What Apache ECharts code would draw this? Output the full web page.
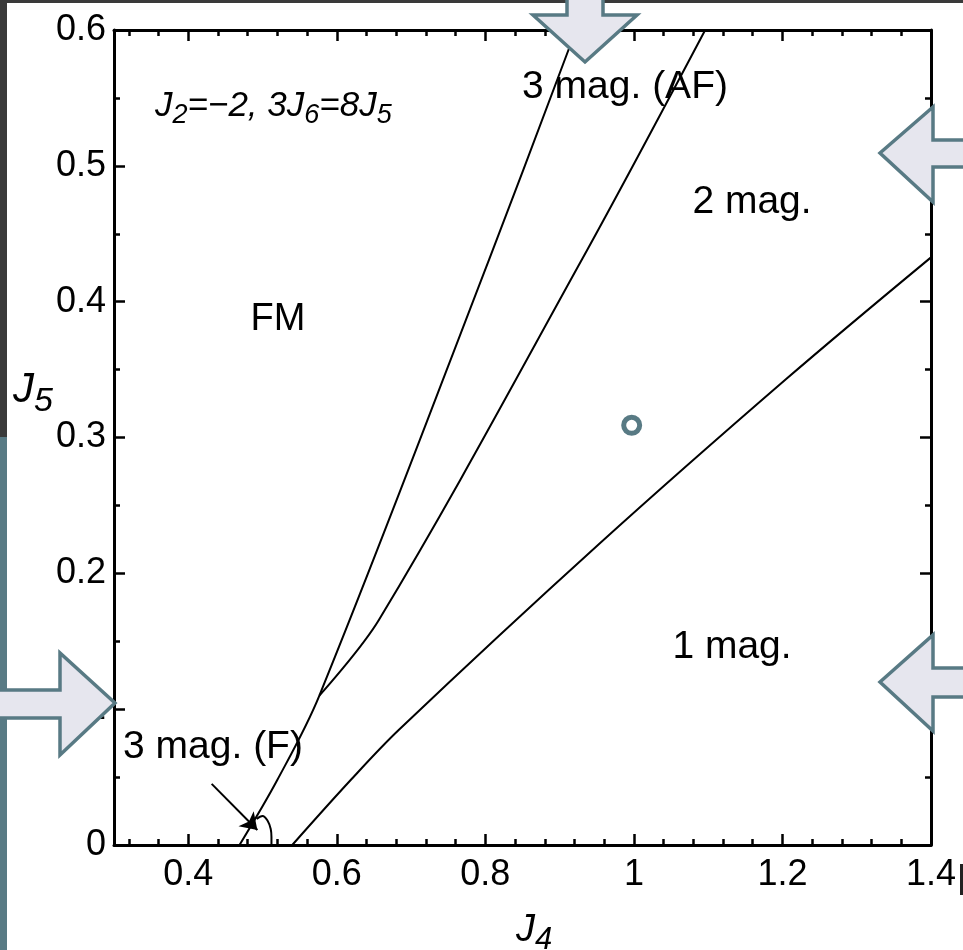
<!DOCTYPE html>
<html>
<head>
<meta charset="utf-8">
<script src="https://cdn.jsdelivr.net/npm/echarts@6/dist/echarts.min.js"></script>
<style>
html,body{margin:0;padding:0;background:#fff;}
#chart{width:963px;height:950px;}
</style>
</head>
<body>
<div id="chart"></div>
<script>
// ---- data (J4, J5) ----
const boundaryFM_AF = [[0.469,0],[0.520,0.048],[0.5765,0.110],[0.805,0.431],[0.922,0.6]];
const boundaryAF_2mag = [[0.5765,0.110],[0.657,0.166],[0.930,0.431],[1.096,0.6]];
const boundary2mag_1mag = [[0.540,0],[0.619,0.048],[0.684,0.085],[0.952,0.221],[1.205,0.343],[1.4,0.4326]];
const boundary3magF = [[0.492,0.0192],[0.500,0.0214],[0.507,0.0177],[0.511,0.0118],[0.512,0.0059],[0.512,0]];
const markedPoint = [[0.997,0.309]];
const arrowFrom = [0.4315,0.045];
const arrowTo = [0.493,0.011];
// ---- ticks ----
const xMajor = [0.4,0.6,0.8,1.0,1.2,1.4];
const xMinor = [0.32,0.36,0.40,0.44,0.48,0.52,0.56,0.60,0.64,0.68,0.72,0.76,0.80,0.84,0.88,0.92,0.96,1.00,1.04,1.08,1.12,1.16,1.20,1.24,1.28,1.32,1.36];
const yMajor = [0,0.1,0.2,0.3,0.4,0.5,0.6];
const yMinor = [0.05,0.15,0.25,0.35,0.45,0.55];

const FONT = "'Liberation Sans', Arial, sans-serif";
const chart = echarts.init(document.getElementById('chart'), null, {renderer:'canvas'});

function xAx(pos, ticks, len, showLine, showLabel){
  return {
    type:'value', min:0.3, max:1.4, position:pos,
    axisLine:{show:showLine, onZero:false, lineStyle:{color:'#000', width:3}},
    axisTick:{show:true, inside:true, length:len, customValues:ticks, lineStyle:{color:'#000', width:2.5}},
    axisLabel:{show:showLabel, customValues:ticks, fontSize:36, color:'#000', fontFamily:FONT, margin:12},
    splitLine:{show:false}, minorTick:{show:false}
  };
}
function yAx(pos, ticks, len, showLine, showLabel){
  return {
    type:'value', min:0, max:0.6, position:pos,
    axisLine:{show:showLine, onZero:false, lineStyle:{color:'#000', width:3}},
    axisTick:{show:true, inside:true, length:len, customValues:ticks, lineStyle:{color:'#000', width:2.5}},
    axisLabel:{show:showLabel, customValues:ticks, fontSize:36, color:'#000', fontFamily:FONT, margin:8},
    splitLine:{show:false}, minorTick:{show:false}
  };
}

const lineStyle = {color:'#000', width:2};
const arrowFill = '#e6e6ee', arrowStroke = '#587a84';

function blockArrow(points){
  return {type:'polygon', z:100, shape:{points:points}, style:{fill:arrowFill, stroke:arrowStroke, lineWidth:3.5, lineJoin:'miter'}};
}
function label(text, x, y, size){
  return {type:'text', z:50, style:{text:text, x:x, y:y, font:size+'px '+FONT, fill:'#000', align:'center', verticalAlign:'middle', textAlign:'center', textVerticalAlign:'middle'}};
}
function subText(x, y, main, sub, parts){
  return {type:'text', z:50, style:{
    x:x, y:y, align:'left', verticalAlign:'middle', textAlign:'left', textVerticalAlign:'middle',
    text:parts,
    rich:{
      i:{fontSize:main, fontStyle:'italic', fontFamily:FONT, fill:'#000', color:'#000'},
      s:{fontSize:sub, fontStyle:'italic', fontFamily:FONT, fill:'#000', color:'#000', padding:[Math.round(main*0.55),0,0,0]}
    }}};
}

const option = {
  animation:false,
  backgroundColor:'#fff',
  grid:{left:114, right:32, top:30, bottom:105, containLabel:false},
  xAxis:[xAx('bottom', xMajor, 11, true, true), xAx('bottom', xMinor, 6, false, false), xAx('top', xMajor, 11, true, false), xAx('top', xMinor, 6, false, false)],
  yAxis:[yAx('left', yMajor, 11, true, true), yAx('left', yMinor, 6, false, false), yAx('right', yMajor, 11, true, false), yAx('right', yMinor, 6, false, false)],
  series:[
    {type:'line', data:boundaryFM_AF, symbol:'none', smooth:0.35, lineStyle:lineStyle, xAxisIndex:0, yAxisIndex:0},
    {type:'line', data:boundaryAF_2mag, symbol:'none', smooth:0.35, lineStyle:lineStyle, xAxisIndex:0, yAxisIndex:0},
    {type:'line', data:boundary2mag_1mag, symbol:'none', smooth:0.35, lineStyle:lineStyle, xAxisIndex:0, yAxisIndex:0},
    {type:'line', data:boundary3magF, symbol:'none', smooth:0.4, lineStyle:lineStyle, xAxisIndex:0, yAxisIndex:0,
      markLine:{silent:true, symbol:['none','arrow'], symbolSize:16, label:{show:false},
        lineStyle:{color:'#000', width:2, type:'solid'},
        data:[[{coord:arrowFrom},{coord:arrowTo}]]}},
    {type:'scatter', data:markedPoint, symbol:'circle', symbolSize:16,
      itemStyle:{color:'#fff', borderColor:'#587a84', borderWidth:5, opacity:1}, xAxisIndex:0, yAxisIndex:0, z:20}
  ],
  graphic:[
    {type:'rect', z:90, shape:{x:0,y:0,width:963,height:3}, style:{fill:'#3a3a3a'}},
    {type:'rect', z:90, shape:{x:0,y:0,width:7,height:437}, style:{fill:'#3a3a3a'}},
    {type:'rect', z:90, shape:{x:0,y:437,width:7,height:513}, style:{fill:'#587a84'}},
    {type:'rect', z:90, shape:{x:960,y:864,width:3,height:31}, style:{fill:'#222'}},
    label('FM', 278, 320, 38),
    label('3 mag. (AF)', 625, 87, 39),
    label('2 mag.', 752, 202, 39),
    label('1 mag.', 732, 647, 39),
    label('3 mag. (F)', 213, 747, 39),
    subText(155, 106, 35, 27, '{i|J}{s|2}{i|=−2, 3J}{s|6}{i|=8J}{s|5}'),
    subText(516, 930, 38, 31, '{i|J}{s|4}'),
    subText(13, 390, 42, 34, '{i|J}{s|5}'),
    blockArrow([[567,-6],[603,-6],[603,15],[637,15],[585,62],[533,15],[567,15]]),
    blockArrow([[980,140],[933,140],[933,107],[880,153],[933,202],[933,167],[980,167]]),
    blockArrow([[980,668],[933,668],[933,635],[880,682],[933,731],[933,697],[980,697]]),
    blockArrow([[-10,690],[60,690],[60,653],[115,703],[60,755],[60,718],[-10,718]])
  ]
};
chart.setOption(option);
</script>
</body>
</html>
